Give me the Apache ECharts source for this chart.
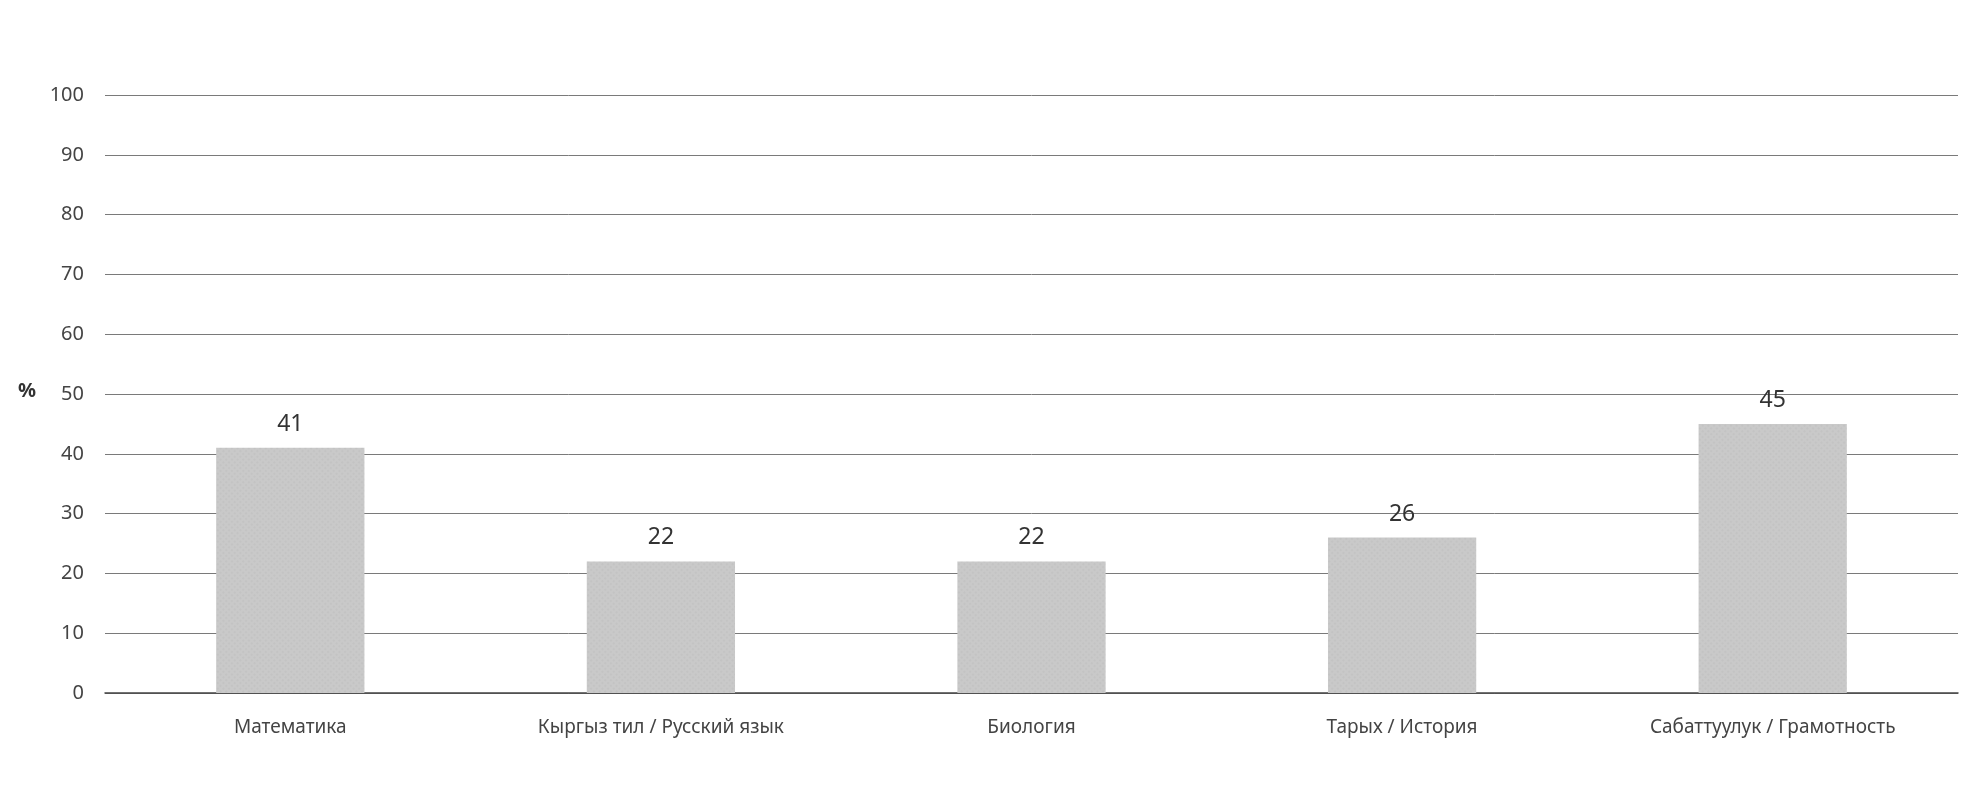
<!DOCTYPE html>
<html><head><meta charset="utf-8">
<script src="https://cdn.jsdelivr.net/npm/echarts@6/dist/echarts.min.js"></script>
<style>html,body{margin:0;padding:0;background:#fff}#c{width:1974px;height:795px}</style>
</head><body><div id="c"></div>
<script>
const categories = ['Математика', 'Кыргыз тил / Русский язык', 'Биология', 'Тарых / История', 'Сабаттуулук / Грамотность'];
const values = [41, 22, 22, 26, 45];
const yTicks = [0, 10, 20, 30, 40, 50, 60, 70, 80, 90, 100];
const FONT = '"Noto Sans", "Open Sans", sans-serif';
const chart = echarts.init(document.getElementById('c'), null, {renderer: 'canvas'});
chart.setOption({
  animation: false,
  backgroundColor: '#ffffff',
  grid: {left: 105, right: 16, top: 95, bottom: 102},
  graphic: [{type: 'text', left: 18, top: 381, style: {text: '%', font: 'bold 20px ' + FONT, fill: '#333'}}],
  xAxis: {
    type: 'category', data: categories,
    axisLine: {lineStyle: {color: '#444', width: 1.5}},
    axisTick: {show: false},
    axisLabel: {color: '#444', fontSize: 19, fontFamily: FONT, margin: 25, interval: 0}
  },
  yAxis: {
    type: 'value', min: yTicks[0], max: yTicks[yTicks.length - 1], interval: 10,
    axisLine: {show: false}, axisTick: {show: false},
    axisLabel: {color: '#444', fontSize: 20, fontFamily: FONT, margin: 21},
    splitLine: {lineStyle: {color: '#7a7a7a', width: 1}}
  },
  series: [{
    type: 'bar', data: values, barWidth: '40%',
    itemStyle: {color: '#c9c9c9',
      decal: {symbol: 'rect', symbolSize: 0.6, dashArrayX: [2, 2], dashArrayY: [2, 2], rotation: Math.PI / 4, color: 'rgba(150,150,150,0.35)'}},
    label: {show: true, position: 'top', distance: 12, color: '#333', fontSize: 23, fontFamily: FONT}
  }]
});
</script></body></html>
